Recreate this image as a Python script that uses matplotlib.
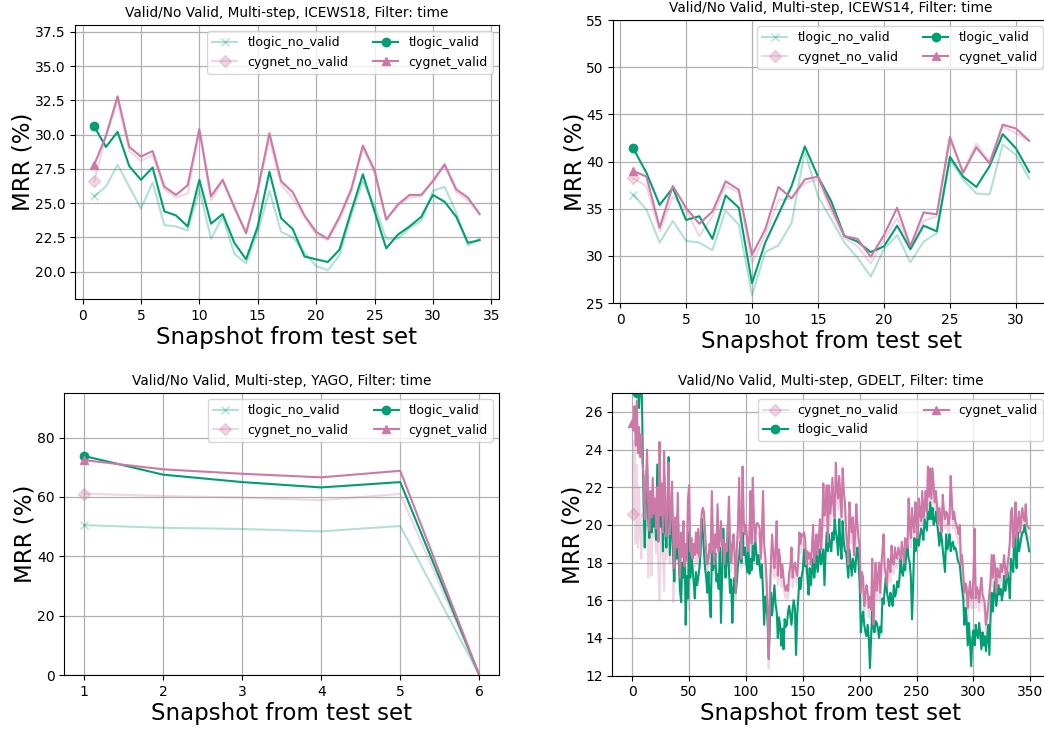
import numpy as np
import matplotlib.pyplot as plt

# ---- ICEWS18 ----
icews18_x = list(range(1, 35))
icews18_tlogic_no_valid = [25.5, 26.2, 27.8, 26.2, 24.6, 26.5, 23.4, 23.3, 23.0, 26.0, 22.4, 24.0, 21.3, 20.6, 22.9, 25.9, 22.9, 22.5, 21.4, 20.4, 20.1, 21.2, 24.1, 26.6, 24.8, 22.4, 22.4, 23.2, 23.7, 25.9, 26.2, 24.3, 21.9, 22.4]
icews18_cygnet_no_valid = [26.6, 29.9, 32.4, 28.8, 28.1, 28.5, 26.0, 25.4, 25.7, 30.2, 25.2, 26.6, 24.6, 22.9, 26.0, 29.6, 26.4, 25.3, 24.0, 22.7, 22.3, 23.8, 25.8, 29.0, 27.2, 23.8, 24.8, 25.4, 25.5, 26.7, 27.9, 25.8, 25.2, 24.2]
icews18_tlogic_valid = [30.6, 29.1, 30.2, 27.7, 26.7, 27.6, 24.4, 24.1, 23.3, 26.7, 23.5, 24.2, 22.1, 20.9, 23.3, 27.3, 23.9, 23.1, 21.1, 20.9, 20.7, 21.6, 24.4, 27.1, 24.4, 21.7, 22.7, 23.3, 24.0, 25.6, 25.1, 24.0, 22.1, 22.3]
icews18_cygnet_valid = [27.8, 29.9, 32.8, 29.1, 28.4, 28.8, 26.2, 25.6, 26.3, 30.4, 25.5, 26.7, 24.7, 22.8, 26.0, 30.1, 26.6, 25.8, 24.1, 22.9, 22.4, 24.0, 26.0, 29.2, 27.4, 23.8, 24.9, 25.6, 25.6, 26.6, 27.8, 26.0, 25.4, 24.2]

# ---- ICEWS14 ----
icews14_x = list(range(1, 32))
icews14_tlogic_no_valid = [36.5, 34.9, 31.4, 33.7, 31.6, 31.4, 30.6, 34.8, 33.3, 25.8, 30.4, 31.1, 33.5, 41.1, 36.3, 33.9, 31.4, 29.8, 27.8, 30.7, 32.2, 29.3, 31.5, 32.4, 40.2, 38.1, 36.6, 36.5, 41.8, 40.7, 38.2]
icews14_cygnet_no_valid = [38.2, 37.4, 32.6, 36.3, 34.9, 32.1, 34.2, 37.4, 36.7, 29.2, 32.2, 35.9, 36.1, 37.7, 38.1, 34.7, 31.9, 31.0, 29.2, 31.7, 34.0, 31.0, 33.7, 34.2, 42.3, 38.9, 41.9, 39.9, 43.7, 43.0, 42.2]
icews14_tlogic_valid = [41.4, 38.8, 35.4, 37.2, 33.8, 34.2, 31.8, 36.4, 35.1, 27.1, 31.4, 34.4, 37.4, 41.6, 38.4, 35.8, 32.1, 31.5, 30.4, 31.0, 33.2, 30.7, 33.2, 32.6, 40.5, 38.4, 37.3, 39.5, 42.9, 41.4, 38.9]
icews14_cygnet_valid = [39.0, 38.4, 33.0, 37.4, 35.1, 33.4, 34.7, 37.9, 37.0, 30.1, 32.8, 37.3, 36.1, 38.1, 38.4, 35.2, 32.1, 31.8, 29.9, 32.2, 35.1, 31.0, 34.6, 34.4, 42.6, 38.8, 41.5, 39.8, 43.9, 43.5, 42.2]

# ---- YAGO ----
yago_x = [1, 2, 3, 4, 5, 6]
yago_tlogic_no_valid = [50.5, 49.6, 49.2, 48.4, 50.2, 0.0]
yago_cygnet_no_valid = [61.1, 60.3, 59.8, 58.9, 61.0, 0.0]
yago_tlogic_valid = [73.8, 67.5, 65.0, 63.2, 65.0, 0.0]
yago_cygnet_valid = [72.4, 69.3, 67.8, 66.6, 68.8, 0.0]

# ---- GDELT ----
gdelt_cygnet_no_valid_start = 1
gdelt_cygnet_no_valid = [
    20.6, 24.5, 19.0, 23.2, 18.8, 22.0, 19.5, 18.2, 20.6,
    19.8, 18.8, 21.3, 22.0, 17.2, 19.0, 20.5, 17.3, 21.2, 19.4,
    19.6, 18.5, 20.3, 17.6, 16.0, 19.2, 20.6, 18.0, 16.5, 19.3,
    18.2, 20.4, 22.0, 18.0, 19.6, 21.0, 15.9, 17.1, 19.5, 17.9,
    20.6, 18.2, 16.6, 18.9, 17.6, 19.4, 17.2, 18.3, 17.5, 20.4,
    15.5, 18.0, 18.7, 17.6, 18.4, 17.8, 19.1, 17.9, 19.2, 17.7,
    18.7, 20.2, 20.6, 20.3, 19.1, 18.0, 17.3, 17.7, 18.5, 17.9,
    21.2, 18.5, 17.4, 19.0, 18.3, 20.5, 18.1, 18.8, 19.7, 18.4,
    18.7, 17.4, 18.5, 18.1, 19.1, 20.9, 18.7, 17.5, 18.4, 19.0,
    18.0, 16.0, 18.3, 19.5, 21.8, 19.1, 17.7, 22.4, 19.8, 19.0,
    19.5, 18.8, 18.1, 19.0, 21.2, 18.5, 21.9, 19.7, 18.6, 19.5,
    19.6, 19.5, 19.3, 17.7, 19.1, 21.2, 18.4, 17.8, 16.7, 15.1,
    12.4, 15.7, 17.7, 19.0, 17.9, 17.2, 18.3, 19.7, 16.8, 18.2,
    17.7, 16.7, 17.4, 16.7, 16.3, 16.1, 16.4, 16.1, 17.0, 17.3,
    18.3, 16.7, 17.2, 17.5, 17.1, 16.8, 17.7, 19.1, 18.5, 19.0,
    18.9, 19.1, 18.8, 17.4, 18.1, 17.7, 18.0, 17.4, 18.3, 19.5,
    17.5, 18.4, 19.0, 17.9, 18.7, 19.8, 18.2, 19.3, 21.6, 19.9,
    20.4, 21.5, 18.6, 21.5, 20.0, 20.6, 21.9, 20.4, 19.8, 22.6,
    21.3, 20.8, 22.0, 20.9, 19.8, 22.4, 21.2, 20.6, 19.2, 18.0,
    17.3, 20.6, 19.6, 19.0, 19.8, 17.8, 18.9, 20.5, 19.4, 18.7,
    18.3, 15.9, 16.9, 16.6, 15.2, 15.8, 16.2, 15.9, 15.1, 15.7,
    15.0, 17.6, 14.3, 16.3, 17.4, 16.0, 16.7, 17.4, 15.9, 17.3,
    18.0, 18.9, 17.2, 16.9, 16.3, 17.6, 17.4, 17.0, 18.3, 17.5,
    17.4, 18.2, 17.8, 17.7, 18.2, 18.0, 17.7, 18.5, 18.1, 17.5,
    18.7, 18.5, 18.3, 20.8, 19.3, 18.8, 20.3, 19.4, 19.1, 20.6,
    19.8, 18.8, 20.8, 20.1, 19.7, 21.2, 19.9, 20.3, 21.2, 20.2,
    22.5, 21.0, 22.4, 20.9, 22.4, 21.5, 20.7, 21.2, 20.5, 19.5,
    20.3, 19.8, 19.1, 21.0, 20.2, 19.8, 20.1, 20.0, 19.5, 19.9,
    22.0, 20.8, 19.8, 20.1, 19.7, 19.5, 19.3, 19.0, 19.4, 17.4,
    17.8, 17.0, 15.9, 16.4, 16.2, 15.1, 15.9, 16.5, 15.6, 15.6,
    16.7, 19.2, 15.6, 16.2, 16.0, 15.4, 16.1, 16.7, 15.8, 15.6,
    15.3, 14.2, 14.7, 15.2, 15.9, 16.5, 17.8, 16.7, 17.9, 17.3,
    15.9, 17.2, 16.9, 16.7, 17.4, 17.0, 17.3, 17.9, 17.1, 16.7,
    17.4, 17.9, 18.6, 20.2, 20.4, 18.3, 19.3, 20.7, 18.8, 19.6,
    20.2, 19.1, 19.8, 20.4, 19.9, 19.7, 20.6, 19.5, 19.4, 19.3,
]
gdelt_tlogic_valid_start = 4
gdelt_tlogic_valid = [
    27.0, 27.6, 26.2, 27.8, 28.5, 24.6,
    21.0, 18.8, 21.5, 23.1, 20.4, 19.3, 21.0, 19.6, 21.8, 19.9,
    20.6, 19.2, 23.2, 19.3, 22.8, 19.9, 21.4, 18.6, 22.6, 19.8,
    18.8, 20.6, 23.6, 18.4, 19.7, 21.0, 18.3, 17.0, 19.4, 18.2,
    20.6, 18.2, 16.5, 15.9, 18.0, 17.2, 18.8, 14.7, 17.3, 16.1,
    19.6, 17.2, 18.3, 17.7, 17.0, 16.1, 17.5, 16.8, 17.2, 17.7,
    18.4, 20.3, 19.6, 18.6, 17.7, 17.2, 16.4, 17.5, 16.0, 15.1,
    18.6, 17.6, 17.9, 18.5, 17.0, 17.4, 16.6, 18.8, 14.8, 17.2,
    19.8, 18.4, 17.2, 18.0, 20.0, 17.6, 16.4, 17.1, 14.8, 16.6,
    17.2, 16.4, 17.0, 17.9, 18.3, 19.1, 18.0, 19.6, 18.4, 18.8,
    18.1, 17.5, 18.9, 17.4, 18.2, 17.6, 18.9, 18.1, 19.3, 18.6,
    17.9, 18.4, 17.8, 17.2, 17.9, 16.4, 14.7, 16.2, 15.6, 15.0,
    12.9, 14.8, 16.4, 15.2, 16.0, 16.8, 15.8, 15.4, 14.0, 15.1,
    14.7, 13.6, 14.5, 13.4, 15.0, 14.6, 14.7, 15.4, 15.7, 15.2,
    14.7, 15.5, 16.0, 15.6, 13.1, 15.2, 16.1, 17.2, 16.6, 17.3,
    17.6, 18.7, 17.8, 18.2, 17.2, 16.3, 17.7, 16.8, 17.5, 18.2,
    17.2, 17.8, 18.6, 17.5, 18.1, 18.7, 17.9, 18.3, 18.7, 16.8,
    18.5, 19.6, 18.6, 19.5, 18.9, 18.6, 19.6, 19.2, 20.3, 19.6,
    19.2, 18.4, 20.3, 19.0, 18.2, 20.2, 19.1, 18.6, 18.6, 17.9,
    17.2, 18.7, 18.0, 17.3, 18.2, 17.9, 17.5, 18.4, 18.8, 18.0,
    16.8, 14.3, 15.0, 15.4, 14.7, 14.3, 14.1, 14.7, 14.0, 12.4,
    14.0, 15.4, 14.6, 14.3, 14.9, 14.8, 14.5, 14.0, 14.6, 14.3,
    16.1, 15.8, 16.6, 17.2, 16.4, 16.1, 15.7, 16.4, 16.0, 15.7,
    16.8, 16.2, 16.4, 17.0, 16.7, 17.2, 18.2, 17.5, 17.3, 17.9,
    17.6, 18.6, 18.9, 18.2, 18.0, 17.2, 15.0, 16.8, 19.3, 18.6,
    19.0, 19.6, 18.9, 19.4, 19.8, 19.6, 19.2, 20.3, 20.0, 19.7,
    20.7, 20.3, 21.2, 20.3, 20.9, 20.0, 20.2, 20.7, 20.1, 19.6,
    18.9, 19.6, 19.3, 18.7, 18.1, 17.5, 19.5, 18.7, 19.0, 19.5,
    18.6, 19.0, 19.1, 18.7, 18.8, 18.6, 18.2, 18.0, 17.9, 17.2,
    16.6, 16.1, 14.7, 15.6, 15.0, 13.6, 14.8, 13.8, 12.5, 14.0,
    14.4, 13.6, 14.7, 14.2, 14.0, 14.8, 14.2, 13.4, 14.3, 13.6,
    14.1, 13.3, 14.0, 14.7, 13.1, 15.0, 16.4, 15.4, 16.3, 17.0,
    15.7, 16.2, 16.8, 16.3, 16.6, 16.0, 16.4, 17.3, 16.5, 16.9,
    17.5, 17.0, 16.1, 18.2, 17.8, 17.5, 19.5, 18.4, 17.7, 19.6,
    18.6, 18.9, 19.3, 19.6, 19.6, 20.0, 19.6, 19.3, 19.0, 18.6,
]
gdelt_cygnet_valid_start = 0
gdelt_cygnet_valid = [
    25.4, 25.0, 26.3, 24.2, 26.6, 23.8, 25.2, 23.6, 24.8, 23.2,
    22.6, 20.3, 22.0, 24.0, 21.2, 19.7, 21.8, 20.4, 22.5, 20.6,
    21.4, 19.8, 22.0, 19.1, 24.4, 20.5, 22.2, 19.6, 23.9, 20.8,
    19.4, 21.5, 23.3, 19.5, 20.6, 22.3, 19.2, 17.7, 20.4, 18.8,
    21.7, 19.0, 17.2, 19.6, 18.3, 20.2, 17.8, 19.0, 18.1, 21.4,
    22.1, 18.6, 19.3, 18.2, 19.0, 18.4, 19.6, 18.5, 19.8, 18.3,
    19.2, 20.6, 20.9, 20.7, 19.6, 18.6, 17.9, 18.2, 19.0, 18.5,
    21.8, 19.0, 17.9, 19.5, 18.8, 21.1, 18.6, 19.3, 20.2, 18.9,
    19.2, 17.9, 19.0, 18.6, 19.6, 21.5, 19.2, 18.0, 18.9, 19.5,
    18.5, 16.4, 18.8, 20.0, 22.5, 19.6, 18.2, 23.1, 20.3, 19.5,
    20.0, 19.3, 18.6, 19.5, 21.8, 19.0, 22.5, 20.2, 19.1, 20.0,
    20.1, 20.0, 19.8, 18.2, 19.6, 21.8, 18.9, 18.3, 17.2, 15.6,
    12.9, 16.2, 18.2, 19.5, 18.4, 17.7, 18.8, 20.2, 17.3, 18.7,
    18.2, 17.2, 17.9, 17.2, 16.7, 16.5, 16.8, 16.5, 17.5, 17.8,
    18.8, 17.2, 17.7, 18.0, 17.6, 17.3, 18.2, 19.6, 19.0, 19.5,
    19.4, 19.6, 19.3, 17.9, 18.6, 18.2, 18.5, 17.9, 18.8, 20.0,
    18.0, 18.9, 19.5, 18.4, 19.2, 20.3, 18.7, 19.8, 22.2, 20.5,
    21.0, 22.1, 19.1, 22.1, 20.6, 21.2, 22.5, 21.0, 20.4, 23.3,
    21.9, 21.4, 22.6, 21.5, 20.4, 23.0, 21.8, 21.2, 19.8, 19.0,
    17.9, 21.2, 20.2, 19.6, 20.4, 18.4, 19.5, 21.1, 20.0, 19.3,
    18.9, 16.4, 17.5, 17.2, 15.7, 16.3, 16.8, 16.4, 15.6, 16.2,
    15.5, 18.2, 14.7, 16.8, 18.0, 16.5, 17.2, 18.0, 16.4, 17.9,
    18.6, 19.5, 17.7, 17.4, 16.8, 18.2, 17.9, 17.5, 18.9, 18.0,
    17.9, 18.8, 18.3, 18.2, 18.8, 18.5, 18.2, 19.1, 18.6, 18.0,
    19.3, 19.0, 18.8, 21.4, 19.9, 19.3, 20.9, 20.0, 19.6, 21.2,
    20.4, 19.3, 21.4, 20.7, 20.2, 21.8, 20.4, 20.9, 21.8, 20.7,
    23.1, 21.5, 23.0, 21.4, 23.0, 22.1, 21.2, 21.8, 21.0, 20.0,
    20.9, 20.3, 19.6, 21.6, 20.8, 20.3, 20.7, 20.6, 20.0, 20.4,
    22.6, 21.3, 20.3, 20.7, 20.2, 20.0, 19.8, 19.5, 20.0, 17.9,
    18.4, 17.5, 16.4, 16.9, 16.7, 15.6, 16.4, 17.0, 16.1, 16.1,
    17.2, 19.8, 16.1, 16.7, 16.5, 15.9, 16.6, 17.2, 16.3, 16.1,
    15.8, 14.7, 15.2, 15.7, 16.4, 17.0, 18.4, 17.2, 18.4, 17.8,
    16.4, 17.7, 17.4, 17.2, 17.9, 17.5, 17.8, 18.4, 17.6, 17.2,
    17.9, 18.4, 19.1, 20.7, 20.9, 18.8, 19.8, 21.2, 19.3, 20.1,
    20.7, 19.6, 20.3, 20.9, 20.4, 20.2, 21.1, 20.0, 19.9, 19.8,
]

green = '#009E73'
pink = '#CC79A7'
title_fs = 9.8
label_fs = 16.5
tick_fs = 10
legend_fs = 9

fig = plt.figure(figsize=(10.44, 7.3), dpi=100)
ax1 = fig.add_axes([0.0718, 0.5904, 0.4061, 0.3753])
ax2 = fig.add_axes([0.5876, 0.5849, 0.4171, 0.3877])
ax3 = fig.add_axes([0.0616, 0.0753, 0.4164, 0.3863])
ax4 = fig.add_axes([0.5866, 0.0744, 0.4182, 0.3873])


def four_lines(ax, x, tnv, cnv, tv, cv):
    ax.plot(x, tnv, color=green, alpha=0.3, marker='x', markevery=[0], ms=6, label='tlogic_no_valid')
    ax.plot(x, cnv, color=pink, alpha=0.3, marker='D', markevery=[0], ms=6, label='cygnet_no_valid')
    ax.plot(x, tv, color=green, marker='o', markevery=[0], ms=6, label='tlogic_valid')
    ax.plot(x, cv, color=pink, marker='^', markevery=[0], ms=6, label='cygnet_valid')


four_lines(ax1, icews18_x, icews18_tlogic_no_valid, icews18_cygnet_no_valid,
           icews18_tlogic_valid, icews18_cygnet_valid)
ax1.set_ylim(18, 38)
ax1.set_title('Valid/No Valid, Multi-step, ICEWS18, Filter: time', fontsize=title_fs)

four_lines(ax2, icews14_x, icews14_tlogic_no_valid, icews14_cygnet_no_valid,
           icews14_tlogic_valid, icews14_cygnet_valid)
ax2.set_ylim(25, 55)
ax2.set_title('Valid/No Valid, Multi-step, ICEWS14, Filter: time', fontsize=title_fs)

four_lines(ax3, yago_x, yago_tlogic_no_valid, yago_cygnet_no_valid,
           yago_tlogic_valid, yago_cygnet_valid)
ax3.set_ylim(0, 95)
ax3.set_title('Valid/No Valid, Multi-step, YAGO, Filter: time', fontsize=title_fs)

x_cnv = np.arange(len(gdelt_cygnet_no_valid)) + gdelt_cygnet_no_valid_start
x_tv = np.arange(len(gdelt_tlogic_valid)) + gdelt_tlogic_valid_start
x_cv = np.arange(len(gdelt_cygnet_valid)) + gdelt_cygnet_valid_start
ax4.plot(x_cnv, gdelt_cygnet_no_valid, color=pink, alpha=0.3, marker='D', markevery=[0], ms=6, label='cygnet_no_valid')
ax4.plot(x_tv, gdelt_tlogic_valid, color=green, marker='o', markevery=[0], ms=6, label='tlogic_valid')
ax4.plot(x_cv, gdelt_cygnet_valid, color=pink, marker='^', markevery=[0], ms=6, label='cygnet_valid')
ax4.set_ylim(12, 27)
ax4.set_title('Valid/No Valid, Multi-step, GDELT, Filter: time', fontsize=title_fs)

for ax in (ax1, ax2, ax3, ax4):
    ax.grid(True, color='#b0b0b0', linewidth=0.9)
    ax.set_axisbelow(True)
    ax.set_xlabel('Snapshot from test set', fontsize=label_fs, labelpad=2)
    ax.set_ylabel('MRR (%)', fontsize=label_fs, labelpad=0)
    ax.tick_params(labelsize=tick_fs)
    ax.legend(loc='upper right', ncol=2, fontsize=legend_fs, framealpha=0.8)

plt.savefig('out.png', dpi=100)
